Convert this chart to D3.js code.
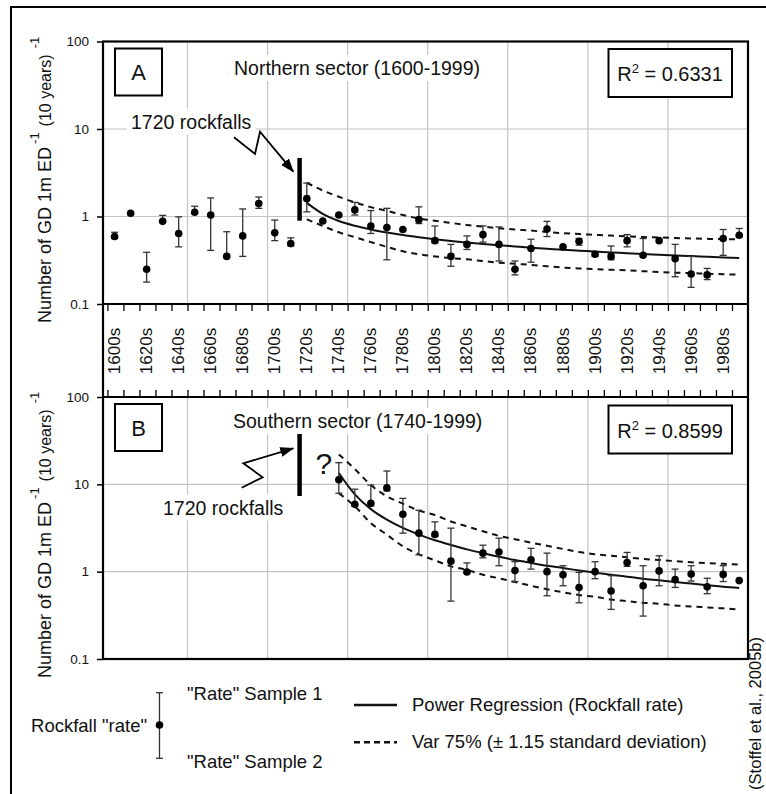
<!DOCTYPE html>
<html><head><meta charset="utf-8">
<script src="https://cdn.jsdelivr.net/npm/d3@7"></script>
<style>
body{margin:0;background:#fff}
text{font-family:"Liberation Sans",Arial,sans-serif;fill:#111}
</style>
</head><body><svg id="c" width="766" height="794"></svg>
<script>
// ---------- DATA ----------
const decadesA = [1600,1610,1620,1630,1640,1650,1660,1670,1680,1690,1700,1710,1720,1730,1740,1750,1760,1770,1780,1790,1800,1810,1820,1830,1840,1850,1860,1870,1880,1890,1900,1910,1920,1930,1940,1950,1960,1970,1980,1990];
const rateA = [0.59,1.09,0.25,0.88,0.64,1.12,1.04,0.35,0.60,1.41,0.65,0.49,1.60,0.89,1.04,1.19,0.78,0.75,0.71,0.92,0.53,0.35,0.48,0.62,0.48,0.25,0.43,0.72,0.45,0.52,0.37,0.35,0.53,0.36,0.53,0.33,0.22,0.215,0.56,0.61];
const lowA  = [0.56,null,0.178,0.86,0.45,1.08,0.41,0.35,0.35,1.24,0.53,0.46,1.13,null,null,1.04,0.64,0.32,null,0.83,0.50,0.27,0.42,0.51,0.31,0.215,0.30,0.59,null,0.47,0.35,0.32,0.45,0.35,null,0.205,0.155,0.19,0.36,0.58];
const highA = [0.66,null,0.39,1.03,0.99,1.31,1.63,0.67,1.22,1.67,0.91,0.57,2.41,null,null,1.45,1.17,1.24,null,1.29,0.78,0.48,0.60,0.78,0.76,0.31,0.55,0.88,null,0.56,0.39,0.46,0.62,0.56,null,0.48,0.35,0.255,0.71,0.73];

const decadesB = [1740,1750,1760,1770,1780,1790,1800,1810,1820,1830,1840,1850,1860,1870,1880,1890,1900,1910,1920,1930,1940,1950,1960,1970,1980,1990];
const rateB = [11.3,5.9,6.06,9.1,4.55,2.76,2.67,1.32,0.99,1.63,1.68,1.03,1.37,1.00,0.92,0.66,1.00,0.60,1.27,0.69,1.02,0.81,0.94,0.67,0.93,0.79];
const lowB  = [7.9,5.6,5.65,8.4,2.76,1.56,2.55,0.46,0.97,1.44,1.17,0.77,1.07,0.53,0.69,0.44,0.83,0.37,1.15,0.31,0.69,0.66,0.78,0.56,0.77,null];
const highB = [17.7,8.8,9.8,14.2,6.9,5.05,3.72,3.15,1.26,2.01,2.42,1.30,1.85,1.63,1.17,0.98,1.30,0.90,1.66,1.17,1.52,1.07,1.17,0.84,1.17,null];

// regression curve (at each decade)
const fitDecadesA = [1720,1730,1740,1750,1760,1770,1780,1790,1800,1810,1820,1830,1840,1850,1860,1870,1880,1890,1900,1910,1920,1930,1940,1950,1960,1970,1980,1990];
const fitA   = [1.43,1.07,0.887,0.783,0.710,0.656,0.613,0.579,0.550,0.525,0.504,0.485,0.468,0.454,0.440,0.428,0.417,0.407,0.397,0.389,0.380,0.373,0.366,0.359,0.353,0.347,0.341,0.336];
const fitUpA = [2.43,1.98,1.68,1.45,1.28,1.16,1.04,0.95,0.895,0.845,0.80,0.765,0.735,0.71,0.69,0.665,0.645,0.63,0.617,0.605,0.593,0.583,0.576,0.568,0.561,0.555,0.551,0.548];
const fitLoA = [0.93,0.78,0.66,0.58,0.51,0.45,0.40,0.37,0.35,0.335,0.324,0.31,0.297,0.288,0.28,0.27,0.261,0.255,0.25,0.246,0.242,0.237,0.232,0.228,0.225,0.222,0.219,0.216];

const fitDecadesB = decadesB;
const fitB   = [13.5,7.68,5.20,3.94,3.17,2.66,2.29,2.02,1.80,1.63,1.48,1.36,1.26,1.17,1.10,1.03,0.975,0.92,0.876,0.83,0.795,0.76,0.73,0.70,0.67,0.65];
const fitUpB = [22,15,9.8,7.3,6.0,5.0,4.45,3.75,3.3,2.9,2.57,2.35,2.15,1.98,1.82,1.68,1.58,1.52,1.46,1.40,1.36,1.32,1.28,1.25,1.23,1.21];
const fitLoB = [7.9,5.6,3.6,2.65,1.95,1.58,1.35,1.15,1.05,0.92,0.84,0.76,0.69,0.63,0.58,0.54,0.515,0.48,0.46,0.44,0.43,0.41,0.40,0.39,0.38,0.37];

const tickLabels = ["1600s","1620s","1640s","1660s","1680s","1700s","1720s","1740s","1760s","1780s","1800s","1820s","1840s","1860s","1880s","1900s","1920s","1940s","1960s","1980s"];
const yTicks = [0.1,1,10,100];
const yTickLabels = ["0.1","1","10","100"];
const gridYears = [1650,1700,1750,1800,1850,1900,1950];
const gridValues = [1,10];
const rockfallYear = 1720;
const r2A = "0.6331", r2B = "0.8599";

// ---------- SCALES ----------
const svg = d3.select("#c");
svg.append("rect").attr("width",766).attr("height",794).attr("fill","#fff");
const x = d3.scaleLinear().domain([1597.25, 2000]).range([103, 748]);
const yA = d3.scaleLog().domain([0.1,100]).range([304, 41.5]);
const yB = d3.scaleLog().domain([0.1,100]).range([659, 397]);
const mid = d => d + 4.5;

svg.append("path").attr("d","M11,800 L11,7 L800,7").attr("fill","none").attr("stroke","#000").attr("stroke-width",2);

const defs = svg.append("defs");
defs.append("marker").attr("id","ah").attr("viewBox","0 0 14 10").attr("refX",13).attr("refY",5)
  .attr("markerWidth",14).attr("markerHeight",10).attr("markerUnits","userSpaceOnUse").attr("orient","auto")
  .append("path").attr("d","M0,0 L14,5 L0,10 Z").attr("fill","#000");

function panel(y, id, dec, rate, lo, hi, fdec, fit, fup, flo) {
  const g = svg.append("g");
  defs.append("clipPath").attr("id", id).append("rect")
    .attr("x", x.range()[0]).attr("y", y.range()[1]).attr("width", x.range()[1]-x.range()[0]).attr("height", y.range()[0]-y.range()[1]);
  g.selectAll(".gx").data(gridYears).join("line")
    .attr("x1", d=>x(d)).attr("x2", d=>x(d)).attr("y1", y(100)).attr("y2", y(0.1))
    .attr("stroke","#c4c4c4").attr("stroke-width",1.2);
  g.selectAll(".gy").data(gridValues).join("line")
    .attr("x1", x.range()[0]).attr("x2", x.range()[1]).attr("y1", d=>y(d)).attr("y2", d=>y(d))
    .attr("stroke","#c4c4c4").attr("stroke-width",1.2);
  const ax = g.append("g").attr("transform",`translate(${x.range()[0]},0)`)
    .call(d3.axisLeft(y).tickValues(yTicks).tickFormat((d,i)=>yTickLabels[i]).tickSize(6).tickPadding(8));
  ax.select(".domain").remove();
  ax.selectAll("line").attr("stroke","#000").attr("stroke-width",1.5);
  ax.selectAll("text").style("font-family","'Liberation Sans Narrow','Liberation Sans',Arial").style("font-size","13.5px").attr("fill","#111");
  const cg = g.append("g").attr("clip-path",`url(#${id})`);
  const line = d3.line().x(d=>x(mid(d[0]))).y(d=>y(d[1])).curve(d3.curveMonotoneX);
  cg.append("path").attr("d", line(fdec.map((d,i)=>[d,fup[i]]))).attr("fill","none").attr("stroke","#111").attr("stroke-width",2).attr("stroke-dasharray","6,5");
  cg.append("path").attr("d", line(fdec.map((d,i)=>[d,flo[i]]))).attr("fill","none").attr("stroke","#111").attr("stroke-width",2).attr("stroke-dasharray","6,5");
  cg.append("path").attr("d", line(fdec.map((d,i)=>[d,fit[i]]))).attr("fill","none").attr("stroke","#111").attr("stroke-width",2);
  const eb = dec.map((d,i)=>({d, v:rate[i], lo:lo[i], hi:hi[i]}));
  const ebg = g.selectAll(".eb").data(eb.filter(e=>e.lo!==null)).join("g").attr("stroke","#333").attr("stroke-width",1.3);
  ebg.append("line").attr("x1",e=>x(mid(e.d))).attr("x2",e=>x(mid(e.d))).attr("y1",e=>y(e.hi)).attr("y2",e=>y(e.lo));
  ebg.append("line").attr("x1",e=>x(mid(e.d))-3.5).attr("x2",e=>x(mid(e.d))+3.5).attr("y1",e=>y(e.hi)).attr("y2",e=>y(e.hi));
  ebg.append("line").attr("x1",e=>x(mid(e.d))-3.5).attr("x2",e=>x(mid(e.d))+3.5).attr("y1",e=>y(e.lo)).attr("y2",e=>y(e.lo));
  g.selectAll(".pt").data(eb).join("circle").attr("cx",e=>x(mid(e.d))).attr("cy",e=>y(e.v)).attr("r",3.8).attr("fill","#000");
  return g;
}
panel(yA, "clipA", decadesA, rateA, lowA, highA, fitDecadesA, fitA, fitUpA, fitLoA);
panel(yB, "clipB", decadesB, rateB, lowB, highB, fitDecadesB, fitB, fitUpB, fitLoB);

svg.append("line").attr("x1",x(rockfallYear)).attr("x2",x(rockfallYear)).attr("y1",yA(4.67)).attr("y2",yA(0.895)).attr("stroke","#000").attr("stroke-width",4.5);
svg.append("line").attr("x1",x(rockfallYear)).attr("x2",x(rockfallYear)).attr("y1",yB(38.4)).attr("y2",yB(7.35)).attr("stroke","#000").attr("stroke-width",4.5);

function labelBg(t, pad) {
  const b = t.node().getBBox();
  svg.insert("rect", () => t.node()).attr("x",b.x-pad).attr("y",b.y-pad/2).attr("width",b.width+2*pad).attr("height",b.height+pad).attr("fill","#fff");
}
const tA = svg.append("text").attr("x",234).attr("y",75).style("font-size","19.5px").text("Northern sector (1600-1999)");
labelBg(tA, 4);
const tB = svg.append("text").attr("x",233).attr("y",428).style("font-size","19.5px").text("Southern sector (1740-1999)");
labelBg(tB, 4);

[[48.5,"A"],[404,"B"]].forEach(([yy,l])=>{
  svg.append("rect").attr("x",115).attr("y",yy).attr("width",47).attr("height",47).attr("fill","#fff").attr("stroke","#000").attr("stroke-width",2);
  svg.append("text").attr("x",138.5).attr("y",yy+31.5).attr("text-anchor","middle").style("font-size","22px").text(l);
});
[[49,81,r2A],[405.5,437.5,r2B]].forEach(([yy,bl,v])=>{
  svg.append("rect").attr("x",608.5).attr("y",yy).attr("width",123.5).attr("height",48).attr("fill","#fff").attr("stroke","#000").attr("stroke-width",2);
  const t = svg.append("text").attr("x",670).attr("y",bl).attr("text-anchor","middle").style("font-size","20px");
  t.append("tspan").text("R");
  t.append("tspan").attr("dy",-8).style("font-size","13px").text("2");
  t.append("tspan").attr("dy",8).text(" = " + v);
});

const rA = svg.append("text").attr("x",131).attr("y",128.5).style("font-size","19.5px").text("1720 rockfalls");
labelBg(rA, 4);
const rB = svg.append("text").attr("x",163).attr("y",514.5).style("font-size","19.5px").text("1720 rockfalls");
labelBg(rB, 4);
svg.append("polyline").attr("points","234,137.3 255,154 260,131.7 293.3,171.7").attr("fill","none").attr("stroke","#000").attr("stroke-width",1.8).attr("marker-end","url(#ah)");
svg.append("polyline").attr("points","241.7,487.7 262.7,477.3 243.3,463.3 293.3,448.3").attr("fill","none").attr("stroke","#000").attr("stroke-width",1.8).attr("marker-end","url(#ah)");
svg.append("text").attr("x",315.5).attr("y",473.5).style("font-size","30px").text("?");

const band = svg.append("g");
band.append("g").attr("transform","translate(0,304)").call(d3.axisBottom(x).tickValues(decadesA).tickFormat("").tickSize(7))
  .call(a=>a.select(".domain").remove()).selectAll("line").attr("stroke","#000").attr("stroke-width",1.3);
band.append("g").attr("transform","translate(0,397)").call(d3.axisTop(x).tickValues(decadesA).tickFormat("").tickSize(7))
  .call(a=>a.select(".domain").remove()).selectAll("line").attr("stroke","#000").attr("stroke-width",1.3);
band.selectAll(".tl").data(tickLabels).join("text")
  .attr("transform", d=>`translate(${x(mid(parseInt(d)))},351) rotate(-90)`)
  .attr("text-anchor","middle").attr("dominant-baseline","central").style("font-size","17px").text(d=>d);

const fr = svg.append("g").attr("fill","none").attr("stroke","#000").attr("stroke-width",2.2);
fr.append("rect").attr("x",103).attr("y",41.5).attr("width",645).attr("height",617.5);
fr.append("line").attr("x1",103).attr("x2",748).attr("y1",304).attr("y2",304);
fr.append("line").attr("x1",103).attr("x2",748).attr("y1",397).attr("y2",397);

function yTitle(ys) {
  const t = svg.append("text").attr("transform",`translate(50.5,${ys}) rotate(-90)`).attr("text-anchor","start");
  t.append("tspan").style("font-size","18px").text("Number of GD 1m ED");
  t.append("tspan").attr("dx",3).attr("dy",-12).style("font-size","13px").text("-1");
  t.append("tspan").attr("dx",6).attr("dy",12).style("font-size","16px").text("(10 years)");
  t.append("tspan").attr("dx",6).attr("dy",-12).style("font-size","13px").text("-1");
}
yTitle(323);
yTitle(678);

const lg = svg.append("g");
lg.append("text").attr("x",147).attr("y",731.5).attr("text-anchor","end").style("font-size","18.5px").text('Rockfall "rate"');
const lx = 159.5;
lg.append("line").attr("x1",lx).attr("x2",lx).attr("y1",692.7).attr("y2",758.3).attr("stroke","#333").attr("stroke-width",1.3);
lg.append("line").attr("x1",lx-3.5).attr("x2",lx+3.5).attr("y1",692.7).attr("y2",692.7).attr("stroke","#333").attr("stroke-width",1.3);
lg.append("line").attr("x1",lx-3.5).attr("x2",lx+3.5).attr("y1",758.3).attr("y2",758.3).attr("stroke","#333").attr("stroke-width",1.3);
lg.append("circle").attr("cx",lx).attr("cy",725).attr("r",3.8).attr("fill","#000");
lg.append("text").attr("x",187).attr("y",700).style("font-size","18.5px").text('"Rate" Sample 1');
lg.append("text").attr("x",187).attr("y",767.5).style("font-size","18.5px").text('"Rate" Sample 2');
lg.append("line").attr("x1",354).attr("x2",397).attr("y1",705).attr("y2",705).attr("stroke","#111").attr("stroke-width",2.5);
lg.append("text").attr("x",412).attr("y",710.5).style("font-size","18.5px").text("Power Regression (Rockfall rate)");
lg.append("line").attr("x1",354).attr("x2",397).attr("y1",742.3).attr("y2",742.3).attr("stroke","#111").attr("stroke-width",2.5).attr("stroke-dasharray","6,4");
lg.append("text").attr("x",412).attr("y",748.3).style("font-size","18.5px").text("Var 75% (\u00b1 1.15 standard deviation)");

svg.append("text").attr("transform","translate(761,637) rotate(-90)").attr("text-anchor","end").style("font-size","16.5px").text("(Stoffel et al., 2005b)");
</script></body></html>
